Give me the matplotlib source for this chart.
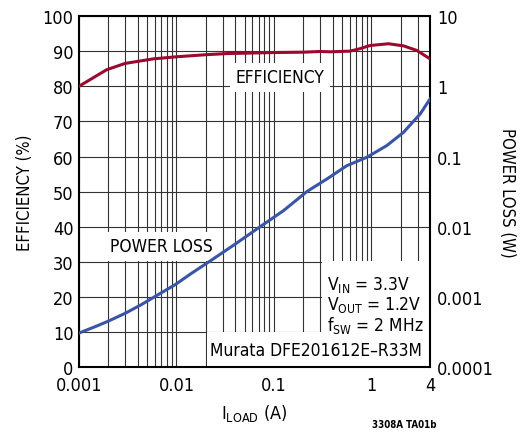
import matplotlib
matplotlib.use("Agg")
import matplotlib.pyplot as plt
from matplotlib import font_manager
from matplotlib.patches import Rectangle
from matplotlib.ticker import FixedLocator, NullLocator, NullFormatter

names = {f.name for f in font_manager.fontManager.ttflist}
if "Liberation Sans Narrow" in names:
    plt.rcParams["font.family"] = ["Liberation Sans Narrow", "DejaVu Sans"]
else:
    plt.rcParams["font.family"] = ["DejaVu Sans"]
    plt.rcParams["font.stretch"] = "condensed"
plt.rcParams["mathtext.default"] = "regular"

# Efficiency data (%)
eff_load = [0.001, 0.00192, 0.00297, 0.0058, 0.0101, 0.0205, 0.0328, 0.0989,
            0.201, 0.298, 0.378, 0.605, 0.766, 0.969, 1.50, 2.14, 2.93, 4.0]
eff_pct = [80.0, 84.7, 86.5, 87.8, 88.4, 89.0, 89.3, 89.6,
           89.7, 89.9, 89.8, 90.0, 90.7, 91.6, 92.1, 91.5, 90.2, 87.8]

# Power loss data (W)
loss_load = [0.001, 0.0015, 0.0020, 0.0030, 0.0044, 0.0060, 0.0097, 0.0143,
             0.0230, 0.040, 0.0721, 0.125, 0.218, 0.363, 0.443, 0.560, 0.899,
             1.44, 2.14, 3.17, 4.0]
loss_w = [3.07e-4, 3.84e-4, 4.54e-4, 5.9e-4, 7.85e-4, 1.014e-3, 1.5e-3, 2.18e-3,
          3.37e-3, 5.66e-3, 0.0100, 0.0169, 0.0317, 0.0495, 0.0596, 0.074, 0.0975,
          0.143, 0.221, 0.403, 0.659]

x_ticks = [0.001, 0.01, 0.1, 1, 4]
x_tick_labels = ["0.001", "0.01", "0.1", "1", "4"]
left_ticks = list(range(0, 101, 10))
right_ticks = [1e-4, 1e-3, 1e-2, 1e-1, 1, 10]
right_tick_labels = ["0.0001", "0.001", "0.01", "0.1", "1", "10"]
vgrid = [m * 10.0 ** e for e in (-3, -2, -1) for m in range(1, 10)] + [1, 2, 3, 4]

fig = plt.figure(figsize=(5.29, 4.35), dpi=100)
ax = fig.add_axes([79 / 529, (435 - 368.3) / 435, 351 / 529, 351.3 / 435])
ax.set_xscale("log")
ax.set_xlim(0.001, 4)
ax.set_ylim(0, 100)
ax.xaxis.set_major_locator(FixedLocator(x_ticks))
ax.set_xticklabels(x_tick_labels)
ax.xaxis.set_minor_locator(NullLocator())
ax.xaxis.set_minor_formatter(NullFormatter())
ax.set_yticks(left_ticks)
ax.set_yticklabels([str(t) for t in left_ticks])
for v in vgrid:
    ax.axvline(v, color="#333333", lw=0.8, zorder=1)
for h in left_ticks:
    ax.axhline(h, color="#333333", lw=0.8, zorder=1)
ax.tick_params(axis="y", length=0, labelsize=13, pad=4)
ax.tick_params(axis="x", length=0, labelsize=13, pad=6)
for s in ax.spines.values():
    s.set_linewidth(1.5)
    s.set_zorder(5)

ax.set_ylabel("EFFICIENCY (%)", fontsize=12, labelpad=6)
ax.set_xlabel("I$_{LOAD}$ (A)", fontsize=13, labelpad=6)

# white label boxes
ax.add_patch(Rectangle((0.691, 0.1005), 0.309, 0.2025, transform=ax.transAxes,
                       facecolor="white", edgecolor="none", zorder=3))
ax.add_patch(Rectangle((0.364, 0.0), 0.636, 0.1005, transform=ax.transAxes,
                       facecolor="white", edgecolor="none", zorder=3))
ax.text(0.573, 0.826, "EFFICIENCY", transform=ax.transAxes, ha="center", va="center",
        fontsize=12.5, zorder=4, bbox=dict(facecolor="white", edgecolor="none", pad=4))
ax.text(0.235, 0.345, "POWER LOSS", transform=ax.transAxes, ha="center", va="center",
        fontsize=12.5, zorder=4, bbox=dict(facecolor="white", edgecolor="none", pad=4))
ax.text(0.706, 0.237, "V$_{IN}$ = 3.3V", transform=ax.transAxes, ha="left", va="center",
        fontsize=12.5, zorder=4)
ax.text(0.706, 0.180, "V$_{OUT}$ = 1.2V", transform=ax.transAxes, ha="left", va="center",
        fontsize=12.5, zorder=4)
ax.text(0.706, 0.123, "f$_{SW}$ = 2 MHz", transform=ax.transAxes, ha="left", va="center",
        fontsize=12.5, zorder=4)
ax.text(0.676, 0.049, "Murata DFE201612E\u2013R33M", transform=ax.transAxes, ha="center",
        va="center", fontsize=12.5, zorder=4)

ax.plot(eff_load, eff_pct, color="#9b0a2e", lw=2.2, zorder=6, solid_joinstyle="round")

ax2 = ax.twinx()
ax2.set_yscale("log")
ax2.set_ylim(1e-4, 10)
ax2.yaxis.set_major_locator(FixedLocator(right_ticks))
ax2.set_yticklabels(right_tick_labels)
ax2.yaxis.set_minor_locator(NullLocator())
ax2.yaxis.set_minor_formatter(NullFormatter())
ax2.tick_params(length=0, labelsize=13, pad=5)
ax2.set_ylabel("POWER LOSS (W)", fontsize=12, rotation=270, labelpad=16)
for s in ax2.spines.values():
    s.set_visible(False)
ax2.plot(loss_load, loss_w, color="#3a55a8", lw=2.2, zorder=6, solid_joinstyle="round")

fig.text(436 / 529, (435 - 425) / 435, "3308A TA01b", ha="right", va="center",
         fontsize=7, fontweight="bold")

fig.savefig("out.png", dpi=100)
